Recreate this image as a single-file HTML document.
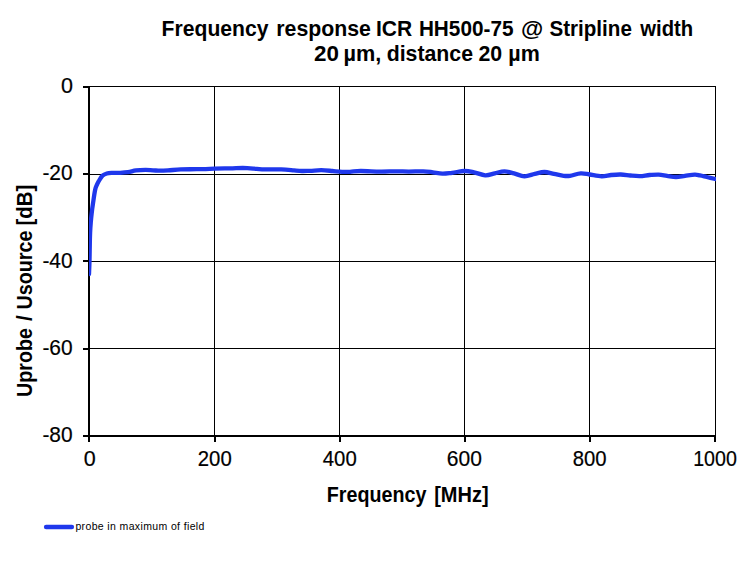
<!DOCTYPE html>
<html>
<head>
<meta charset="utf-8">
<title>Frequency response ICR HH500-75</title>
<style>
  html, body { margin: 0; padding: 0; background: #ffffff; }
  body { width: 750px; height: 561px; overflow: hidden; position: relative;
         font-family: "Liberation Sans", sans-serif; color: #000; }
  svg { position: absolute; left: 0; top: 0; display: block; }
  text { font-family: "Liberation Sans", sans-serif; fill: #000; }
  .title { font-size: 21.5px; font-weight: bold; }
  .axt   { font-size: 21.5px; font-weight: bold; }
  .tick  { font-size: 21.5px; stroke: #000; stroke-width: 0.2px; }
  .leg   { font-size: 10.5px; }
</style>
</head>
<body>
<svg width="750" height="561" viewBox="0 0 750 561">
  <rect x="0" y="0" width="750" height="561" fill="#ffffff"/>

  <!-- grid + frame (crisp 1px / 2px lines) -->
  <g shape-rendering="crispEdges" fill="#000">
    <rect x="88" y="86" width="628" height="1"/>
    <rect x="715" y="86" width="1" height="351"/>
    <rect x="88" y="174" width="628" height="1"/>
    <rect x="88" y="261" width="628" height="1"/>
    <rect x="88" y="348" width="628" height="1"/>
    <rect x="214" y="86" width="1" height="350"/>
    <rect x="339" y="86" width="1" height="350"/>
    <rect x="464" y="86" width="1" height="350"/>
    <rect x="589" y="86" width="1" height="350"/>
    <rect x="88" y="86" width="2" height="356"/>
    <rect x="83" y="435" width="633" height="2"/>
    <rect x="83" y="86"  width="6" height="2"/>
    <rect x="83" y="173" width="6" height="2"/>
    <rect x="83" y="260" width="6" height="2"/>
    <rect x="83" y="348" width="6" height="2"/>
    <rect x="214" y="435" width="2" height="7"/>
    <rect x="339" y="435" width="2" height="7"/>
    <rect x="464" y="435" width="2" height="7"/>
    <rect x="589" y="435" width="2" height="7"/>
    <rect x="714" y="435" width="2" height="7"/>
  </g>

  <!-- data curve -->
  <defs><clipPath id="pc"><rect x="89" y="80" width="627" height="360"/></clipPath></defs>
  <path clip-path="url(#pc)" fill="none" stroke="#1f38ec" stroke-width="4.3" stroke-linecap="round" stroke-linejoin="round"
    d="M89.0,274.2 C89.1,272.0 89.4,265.0 89.5,261.0 C89.6,257.0 89.6,254.7 89.7,250.0 C89.8,245.3 89.9,237.7 90.1,233.0 C90.3,228.3 90.5,225.6 90.8,222.0 C91.1,218.4 91.5,215.0 91.9,211.4 C92.3,207.8 92.9,204.3 93.4,200.7 C93.9,197.1 94.6,192.5 95.1,190.0 C95.6,187.5 96.0,186.9 96.6,185.5 C97.2,184.1 97.6,183.0 98.6,181.4 C99.6,179.8 101.1,177.0 102.5,175.7 C103.9,174.4 105.1,174.0 106.8,173.5 C108.5,173.0 110.3,173.0 112.5,172.9 C114.7,172.8 117.4,172.9 120.0,172.8 C122.6,172.7 125.3,172.6 128.0,172.2 C130.7,171.8 133.1,170.8 136.0,170.4 C138.9,170.0 142.8,169.9 145.6,169.9 C148.4,169.9 150.6,170.2 153.0,170.3 C155.4,170.4 157.5,170.7 160.0,170.7 C162.5,170.7 164.5,170.6 168.0,170.4 C171.5,170.2 176.0,169.6 180.8,169.4 C185.6,169.2 191.2,169.3 196.8,169.2 C202.4,169.1 208.9,168.8 214.4,168.6 C219.9,168.4 225.3,168.4 230.0,168.3 C234.7,168.2 238.8,167.8 242.8,167.8 C246.8,167.9 250.8,168.3 254.0,168.6 C257.2,168.9 257.5,169.3 262.0,169.4 C266.5,169.5 275.9,169.2 281.2,169.4 C286.5,169.6 290.5,170.1 294.0,170.4 C297.5,170.7 299.3,170.9 302.0,171.0 C304.7,171.1 306.8,170.9 310.0,170.8 C313.2,170.7 317.5,170.2 321.2,170.2 C324.9,170.2 328.9,170.7 332.4,171.0 C335.9,171.3 339.1,171.7 342.0,171.8 C344.9,171.9 346.9,171.9 350.0,171.8 C353.1,171.7 355.8,171.0 360.8,171.0 C365.8,171.0 374.1,171.5 380.0,171.6 C385.9,171.7 391.2,171.3 396.0,171.3 C400.8,171.3 404.3,171.6 408.8,171.6 C413.3,171.6 419.2,171.2 423.2,171.3 C427.2,171.4 429.6,171.9 432.8,172.3 C436.0,172.7 439.2,173.5 442.4,173.6 C445.6,173.7 448.3,173.2 452.0,172.8 C455.7,172.4 460.7,171.1 464.4,171.0 C468.1,170.9 470.5,171.6 474.0,172.3 C477.5,173.0 481.7,175.1 485.2,175.3 C488.7,175.5 491.6,174.1 494.8,173.4 C498.0,172.7 501.2,171.3 504.4,171.3 C507.6,171.3 510.7,172.6 514.0,173.4 C517.3,174.2 520.9,176.2 524.4,176.3 C527.9,176.4 531.5,174.6 534.8,173.9 C538.1,173.2 541.2,172.0 544.4,172.0 C547.6,172.0 550.8,173.3 554.0,173.9 C557.2,174.5 560.9,175.5 563.6,175.8 C566.3,176.1 567.1,176.2 570.0,175.8 C572.9,175.4 577.5,173.6 580.8,173.4 C584.1,173.2 586.1,174.0 589.6,174.5 C593.1,175.0 598.0,176.2 601.6,176.3 C605.2,176.4 608.0,175.3 611.2,175.0 C614.4,174.7 617.6,174.4 620.8,174.5 C624.0,174.6 627.2,175.2 630.4,175.5 C633.6,175.8 636.8,176.2 640.0,176.1 C643.2,176.0 646.5,175.2 649.6,175.0 C652.7,174.8 655.8,174.5 658.7,174.6 C661.6,174.7 664.1,175.4 667.0,175.8 C669.9,176.2 673.0,177.0 676.0,177.0 C679.0,177.0 681.9,176.2 685.0,175.8 C688.1,175.4 692.2,174.7 694.7,174.6 C697.2,174.5 698.0,175.0 700.0,175.4 C702.0,175.8 704.2,176.4 706.7,177.0 C709.2,177.6 713.9,178.7 715.3,179.0"/>

  <!-- legend key -->
  <line x1="46.1" y1="527" x2="71.9" y2="527" stroke="#1f38ec" stroke-width="4.4" stroke-linecap="round"/>

  <!-- text -->
  <text id="t1" class="title" x="161.60" y="36" textLength="106.88" lengthAdjust="spacingAndGlyphs">Frequency</text>
  <text id="t2" class="title" x="276.30" y="36" textLength="94.67" lengthAdjust="spacingAndGlyphs">response</text>
  <text id="t3" class="title" x="376.00" y="36" textLength="36.25" lengthAdjust="spacingAndGlyphs">ICR</text>
  <text id="t4" class="title" x="418.90" y="36" textLength="94.56" lengthAdjust="spacingAndGlyphs">HH500-75</text>
  <text id="t5" class="title" x="521.10" y="36" textLength="22.23" lengthAdjust="spacingAndGlyphs">@</text>
  <text id="t6" class="title" x="549.40" y="36" textLength="82.47" lengthAdjust="spacingAndGlyphs">Stripline</text>
  <text id="t7" class="title" x="640.30" y="36" textLength="52.90" lengthAdjust="spacingAndGlyphs">width</text>
  <text id="u1" class="title" x="314.10" y="61" textLength="24.93" lengthAdjust="spacingAndGlyphs">20</text>
  <text id="u2" class="title" x="343.50" y="61" textLength="37.76" lengthAdjust="spacingAndGlyphs">µm,</text>
  <text id="u3" class="title" x="386.70" y="61" textLength="86.31" lengthAdjust="spacingAndGlyphs">distance</text>
  <text id="u4" class="title" x="478.40" y="61" textLength="23.71" lengthAdjust="spacingAndGlyphs">20</text>
  <text id="u5" class="title" x="508.30" y="61" textLength="31.44" lengthAdjust="spacingAndGlyphs">µm</text>
  <text id="y0" class="tick" x="60.90" y="93" textLength="11.97" lengthAdjust="spacingAndGlyphs">0</text>
  <text id="y1" class="tick" x="42.40" y="180" textLength="30.20" lengthAdjust="spacingAndGlyphs">-20</text>
  <text id="y2" class="tick" x="42.40" y="268" textLength="30.20" lengthAdjust="spacingAndGlyphs">-40</text>
  <text id="y3" class="tick" x="42.40" y="355" textLength="30.20" lengthAdjust="spacingAndGlyphs">-60</text>
  <text id="y4" class="tick" x="42.40" y="442" textLength="30.20" lengthAdjust="spacingAndGlyphs">-80</text>
  <text id="x0" class="tick" x="83.80" y="466" textLength="11.97" lengthAdjust="spacingAndGlyphs">0</text>
  <text id="x1" class="tick" x="197.80" y="466" textLength="33.91" lengthAdjust="spacingAndGlyphs">200</text>
  <text id="x2" class="tick" x="322.80" y="466" textLength="33.93" lengthAdjust="spacingAndGlyphs">400</text>
  <text id="x3" class="tick" x="446.80" y="466" textLength="35.03" lengthAdjust="spacingAndGlyphs">600</text>
  <text id="x4" class="tick" x="572.80" y="466" textLength="33.84" lengthAdjust="spacingAndGlyphs">800</text>
  <text id="x5" class="tick" x="693.20" y="466" textLength="43.67" lengthAdjust="spacingAndGlyphs">1000</text>
  <text id="a1" class="axt" x="326.80" y="502" textLength="99.62" lengthAdjust="spacingAndGlyphs">Frequency</text>
  <text id="a2" class="axt" x="434.20" y="502" textLength="54.43" lengthAdjust="spacingAndGlyphs">[MHz]</text>
  <text id="r1" class="axt" transform="translate(32,396.90) rotate(-90)" textLength="68.80" lengthAdjust="spacingAndGlyphs">Uprobe</text>
  <text id="r2" class="axt" transform="translate(32,321.00) rotate(-90)" textLength="5.71" lengthAdjust="spacingAndGlyphs">/</text>
  <text id="r3" class="axt" transform="translate(32,309.50) rotate(-90)" textLength="78.97" lengthAdjust="spacingAndGlyphs">Usource</text>
  <text id="r4" class="axt" transform="translate(32,225.50) rotate(-90)" textLength="40.88" lengthAdjust="spacingAndGlyphs">[dB]</text>
  <text id="l1" class="leg" x="75.40" y="530" textLength="129.00" lengthAdjust="spacing">probe in maximum of field</text>
</svg>
</body>
</html>
